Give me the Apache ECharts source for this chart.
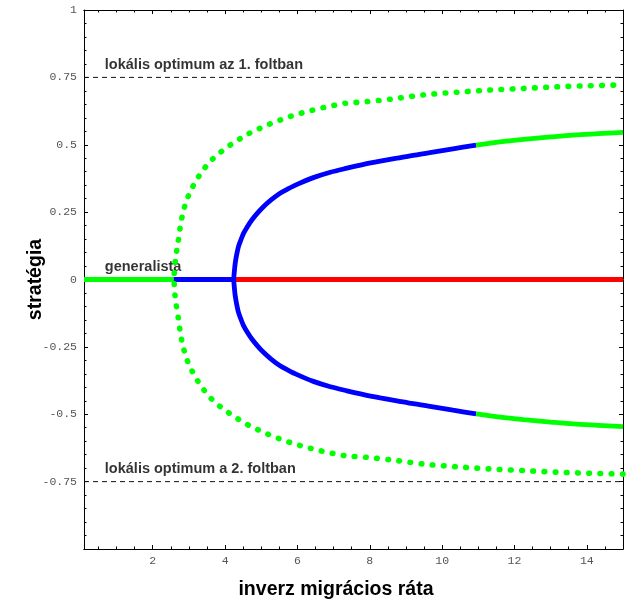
<!DOCTYPE html>
<html><head><meta charset="utf-8">
<script src="https://cdn.jsdelivr.net/npm/echarts@6/dist/echarts.min.js"></script>
<style>html,body{margin:0;padding:0;background:#fff}#c{width:632px;height:601px}</style>
</head><body><div id="c"></div>
<script>
// ---- texts ----
const xTitle = 'inverz migrácios ráta';
const yTitle = 'stratégia';
const noteTexts = ['lokális optimum az 1. foltban', 'generalista', 'lokális optimum a 2. foltban'];
const noteX = [0.69, 0.69, 0.69];
const noteY = [0.75, 0, -0.75];

// ---- ticks ----
const xMajorTicks = [2, 4, 6, 8, 10, 12, 14];
const xMinorTicks = [0.5, 1, 1.5, 2.5, 3, 3.5, 4.5, 5, 5.5, 6.5, 7, 7.5, 8.5, 9, 9.5, 10.5, 11, 11.5, 12.5, 13, 13.5, 14.5];

// ---- data ----
// generalist strategy (y = 0), by stability segment
const flatGreenX = [0.1, 2.58];
const flatBlueX = [2.58, 4.24];
const flatRedX = [4.24, 15];
// stable (blue) branch, upper half; lower half is its mirror
const stableX = [4.24, 4.26, 4.28, 4.32, 4.37, 4.44, 4.51, 4.62, 4.74, 4.90, 5.06, 5.28, 5.52, 5.75, 5.99, 6.44, 6.91, 7.37, 7.83, 8.29, 8.75, 9.20, 9.62, 10.30, 10.94];
const stableY = [0, 0.035, 0.060, 0.092, 0.122, 0.148, 0.171, 0.197, 0.221, 0.247, 0.270, 0.296, 0.320, 0.337, 0.353, 0.378, 0.398, 0.413, 0.427, 0.439, 0.450, 0.461, 0.470, 0.485, 0.499];
// continuation of the branch in green
const stableGreenX = [10.94, 11.6, 12.25, 13.0, 13.63, 14.3, 15.0];
const stableGreenY = [0.499, 0.511, 0.520, 0.529, 0.536, 0.541, 0.546];
// dotted (unstable) branch, upper half
const unstableX = [2.59, 2.61, 2.65, 2.70, 2.74, 2.79, 2.85, 2.94, 3.06, 3.20, 3.36, 3.54, 3.75, 3.98, 4.21, 4.46, 4.72, 5.00, 5.29, 5.57, 5.85, 6.15, 6.44, 6.75, 7.04, 7.32, 7.92, 8.57, 9.49, 10.41, 11.33, 12.25, 13.17, 14.09, 15.0];
const unstableY = [0, 0.05, 0.095, 0.137, 0.177, 0.218, 0.255, 0.295, 0.332, 0.367, 0.400, 0.431, 0.459, 0.483, 0.505, 0.526, 0.546, 0.563, 0.580, 0.594, 0.607, 0.619, 0.629, 0.639, 0.647, 0.654, 0.660, 0.669, 0.685, 0.695, 0.703, 0.709, 0.715, 0.719, 0.722];
// local optima lines
const optimumX = [0.1, 15];
const optimumY = [0.75, -0.75];

const GREEN = '#00ff00', BLUE = '#0000ff', RED = '#ff0000';

function pairs(xs, ys) { return xs.map((x, i) => [x, ys[i]]); }
function mirrored(xs, ys) {
  const lower = xs.map((x, i) => [x, -ys[i]]).reverse();
  const upper = pairs(xs, ys);
  return lower.concat(upper.slice(1));
}
function flat(xs) { return xs.map(x => [x, 0]); }

const lineBase = { type: 'line', showSymbol: false, symbol: 'none', silent: true, animation: false, xAxisIndex: 0, yAxisIndex: 0 };

const series = [
  Object.assign({}, lineBase, { data: flat(flatGreenX), lineStyle: { color: GREEN, width: 4.8 } }),
  Object.assign({}, lineBase, { data: flat(flatBlueX), lineStyle: { color: BLUE, width: 4.8 } }),
  Object.assign({}, lineBase, { data: flat(flatRedX), lineStyle: { color: RED, width: 4.8 } }),
  Object.assign({}, lineBase, { data: mirrored(stableX, stableY), smooth: 0.3, lineStyle: { color: BLUE, width: 4.8 } }),
  Object.assign({}, lineBase, { data: pairs(stableGreenX, stableGreenY), smooth: 0.3, lineStyle: { color: GREEN, width: 4.8 } }),
  Object.assign({}, lineBase, { data: pairs(stableGreenX, stableGreenY.map(v => -v)), smooth: 0.3, lineStyle: { color: GREEN, width: 4.8 } }),
  Object.assign({}, lineBase, { data: mirrored(unstableX, unstableY), smooth: 0.3, lineStyle: { color: GREEN, width: 5.6, type: [0.6, 10.6], cap: 'round' } }),
  Object.assign({}, lineBase, { data: pairs(optimumX, [optimumY[0], optimumY[0]]), lineStyle: { color: '#111', width: 1, type: [5, 4] } }),
  Object.assign({}, lineBase, { data: pairs(optimumX, [optimumY[1], optimumY[1]]), lineStyle: { color: '#111', width: 1, type: [5, 4] } }),
  {
    type: 'scatter', silent: true, animation: false, symbolSize: 1,
    itemStyle: { color: 'rgba(0,0,0,0)' },
    data: noteTexts.map((t, i) => ({ value: [noteX[i], noteY[i]], name: t })),
    label: {
      show: true, formatter: p => p.name, position: [0, -12], align: 'left', verticalAlign: 'middle',
      fontFamily: 'Liberation Sans, Arial, sans-serif', fontWeight: 'bold', fontSize: 14.5, color: '#000'
    }
  }
];

const monoLabel = { fontFamily: 'Liberation Mono, monospace', fontSize: 11.5, color: '#555' };

function xAxisDef(pos, ticks, len, labels) {
  return {
    type: 'value', position: pos, min: 0.1, max: 15,
    axisLine: { show: true, onZero: false, lineStyle: { color: '#000', width: 1 } },
    axisTick: { show: true, inside: true, length: len, customValues: ticks, lineStyle: { color: '#000', width: 1 } },
    axisLabel: labels ? Object.assign({ show: true, margin: 6, customValues: xMajorTicks }, monoLabel) : { show: false },
    splitLine: { show: false },
    name: labels ? xTitle : '', nameLocation: 'middle', nameGap: 31, nameMoveOverlap: false,
    nameTextStyle: { fontFamily: 'Liberation Sans, Arial, sans-serif', fontWeight: 'bold', fontSize: 19.5, color: '#000', padding: [0, 35, 0, 0] }
  };
}
function yAxisDef(pos, labels) {
  return {
    type: 'value', position: pos, min: -1, max: 1, interval: 0.25,
    axisLine: { show: true, onZero: false, lineStyle: { color: '#000', width: 1 } },
    axisTick: { show: true, inside: true, length: 4, lineStyle: { color: '#000', width: 1 } },
    minorTick: { show: true, splitNumber: 5, length: 2.5, lineStyle: { color: '#000', width: 1 } },
    axisLabel: labels ? Object.assign({ show: true, margin: 7, formatter: v => (v === -1 ? '' : String(v)) }, monoLabel) : { show: false },
    splitLine: { show: false }, minorSplitLine: { show: false },
    name: labels ? yTitle : '', nameLocation: 'middle', nameGap: 38, nameRotate: 90, nameMoveOverlap: false,
    nameTextStyle: { fontFamily: 'Liberation Sans, Arial, sans-serif', fontWeight: 'bold', fontSize: 19.5, color: '#000' }
  };
}

const chart = echarts.init(document.getElementById('c'), null, { renderer: 'canvas' });
chart.setOption({
  backgroundColor: '#fff',
  animation: false,
  grid: { left: 84, right: 9, top: 10, bottom: 52, containLabel: false, outerBoundsMode: 'none' },
  xAxis: [
    xAxisDef('bottom', xMajorTicks, 4, true),
    xAxisDef('bottom', xMinorTicks, 2.5, false),
    xAxisDef('top', xMajorTicks, 4, false),
    xAxisDef('top', xMinorTicks, 2.5, false)
  ],
  yAxis: [yAxisDef('left', true), yAxisDef('right', false)],
  series: series
});
</script></body></html>
